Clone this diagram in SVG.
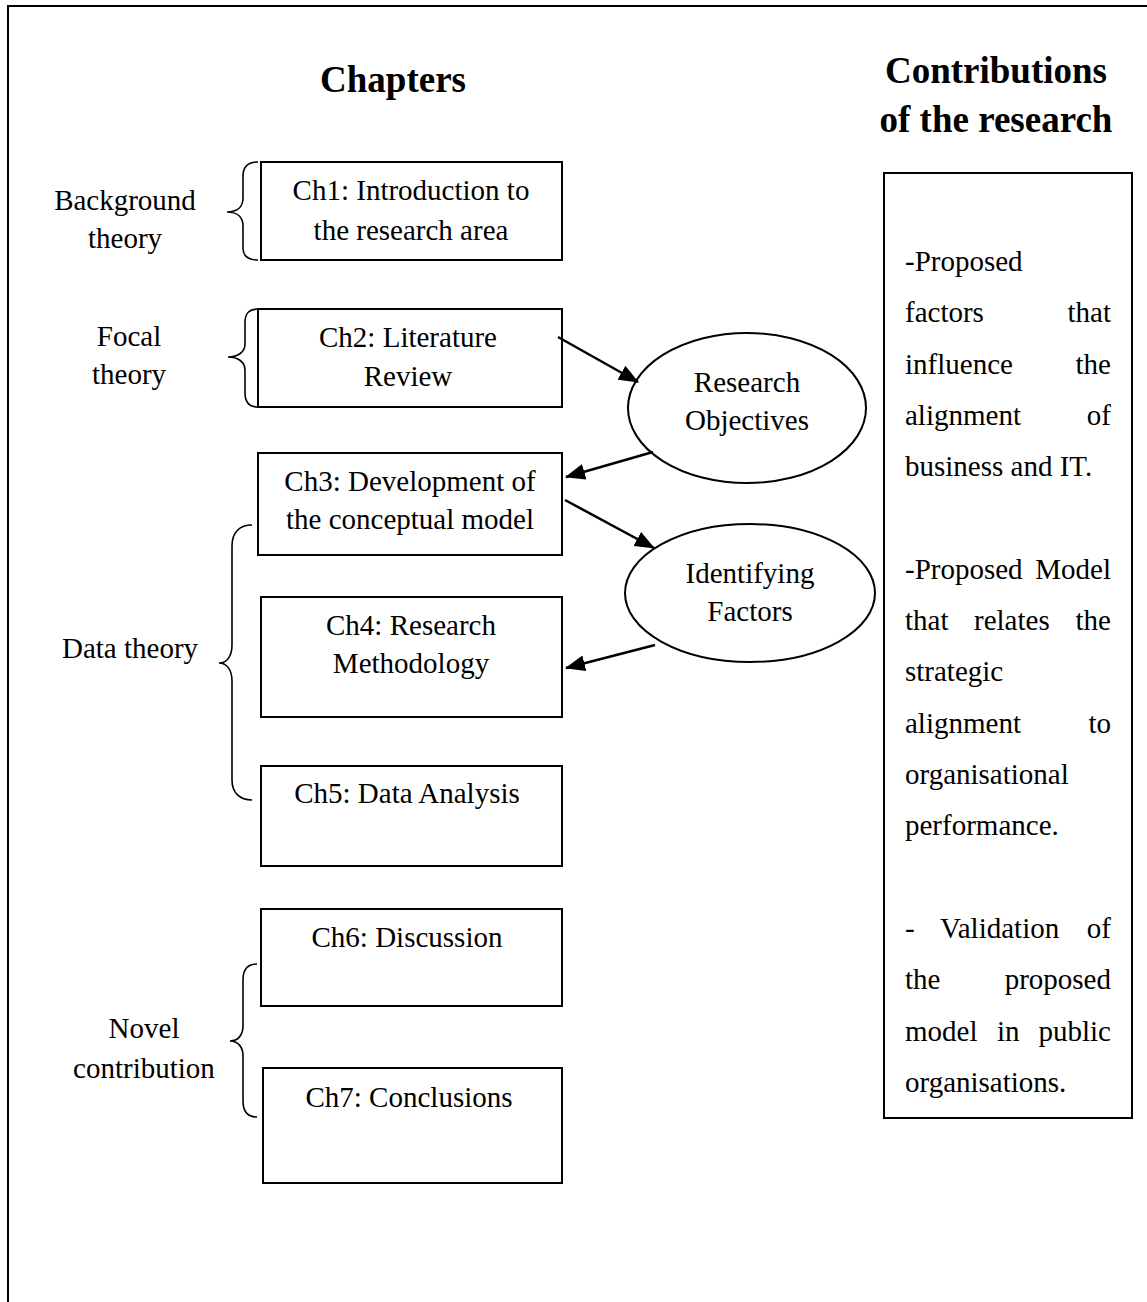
<svg xmlns="http://www.w3.org/2000/svg" width="1147" height="1302" viewBox="0 0 1147 1302">
  <style>
    .box { fill: #fff; stroke: #000; stroke-width: 2; }
    .brace { fill: none; stroke: #000; stroke-width: 1.6; }
    .edge { fill: none; stroke: #000; stroke-width: 2.5; }
    text { font-family: "Liberation Serif", "Times New Roman", serif; font-size: 29px; fill: #000; }
    .mid { text-anchor: middle; }
    .end { text-anchor: end; }
    .title { font-size: 37px; font-weight: bold; }
  </style>
  <defs>
    <marker id="arrow" markerUnits="userSpaceOnUse" markerWidth="20" markerHeight="16" refX="19" refY="8" orient="auto">
      <path d="M0,0 L20,8 L0,16 Z" fill="#000"/>
    </marker>
  </defs>

  <rect width="1147" height="1302" fill="#fff"/>

  <!-- page frame (top and left edges) -->
  <path d="M8,1302 L8,6 L1147,6" fill="none" stroke="#000" stroke-width="2"/>

  <!-- headings -->
  <text class="title mid" x="393" y="92">Chapters</text>
  <text class="title mid" x="996" y="83">Contributions</text>
  <text class="title mid" x="996" y="132">of the research</text>

  <!-- group labels with braces -->
  <g id="background-theory">
    <text class="mid" x="125" y="210">Background</text>
    <text class="mid" x="125" y="248">theory</text>
    <path class="brace" d="M258,162 C248,162 243,166 243,176 L243,198 C243,207 237,212 227,212 C237,212 243,217 243,226 L243,248 C243,256 248,260 258,260"/>
  </g>
  <g id="focal-theory">
    <text class="mid" x="129" y="346">Focal</text>
    <text class="mid" x="129" y="384">theory</text>
    <path class="brace" d="M258,309 C249,309 245,313 245,323 L245,344 C245,352 238,357 228,357 C238,357 245,362 245,370 L245,393 C245,402 249,407 258,407"/>
  </g>
  <g id="data-theory">
    <text class="mid" x="130" y="658">Data theory</text>
    <path class="brace" d="M252,525 C240,525 232,532 232,546 L232,645 C232,656 227,663 219,663 C227,663 232,670 232,681 L232,780 C232,793 240,800 252,800"/>
  </g>
  <g id="novel-contribution">
    <text class="mid" x="144" y="1038">Novel</text>
    <text class="mid" x="144" y="1078">contribution</text>
    <path class="brace" d="M257,964 C248,964 243,969 243,980 L243,1026 C243,1035 238,1041 230,1041 C238,1041 243,1047 243,1056 L243,1101 C243,1112 248,1117 257,1117"/>
  </g>

  <!-- chapter boxes -->
  <g id="ch1">
    <rect class="box" x="261" y="162" width="301" height="98"/>
    <text class="mid" x="411" y="200">Ch1: Introduction to</text>
    <text class="mid" x="411" y="240">the research area</text>
  </g>
  <g id="ch2">
    <rect class="box" x="258" y="309" width="304" height="98"/>
    <text class="mid" x="408" y="347">Ch2: Literature</text>
    <text class="mid" x="408" y="386">Review</text>
  </g>
  <g id="ch3">
    <rect class="box" x="258" y="453" width="304" height="102"/>
    <text class="mid" x="410" y="491">Ch3: Development of</text>
    <text class="mid" x="410" y="529">the conceptual model</text>
  </g>
  <g id="ch4">
    <rect class="box" x="261" y="597" width="301" height="120"/>
    <text class="mid" x="411" y="635">Ch4: Research</text>
    <text class="mid" x="411" y="673">Methodology</text>
  </g>
  <g id="ch5">
    <rect class="box" x="261" y="766" width="301" height="100"/>
    <text class="mid" x="407" y="803">Ch5: Data Analysis</text>
  </g>
  <g id="ch6">
    <rect class="box" x="261" y="909" width="301" height="97"/>
    <text class="mid" x="407" y="947">Ch6: Discussion</text>
  </g>
  <g id="ch7">
    <rect class="box" x="263" y="1068" width="299" height="115"/>
    <text class="mid" x="409" y="1107">Ch7: Conclusions</text>
  </g>

  <!-- ellipses -->
  <g id="research-objectives">
    <ellipse class="box" cx="747" cy="408" rx="119" ry="75"/>
    <text class="mid" x="747" y="392">Research</text>
    <text class="mid" x="747" y="430">Objectives</text>
  </g>
  <g id="identifying-factors">
    <ellipse class="box" cx="750" cy="593" rx="125" ry="69"/>
    <text class="mid" x="750" y="583">Identifying</text>
    <text class="mid" x="750" y="621">Factors</text>
  </g>

  <!-- connectors -->
  <g id="connectors">
    <line class="edge" x1="558" y1="337" x2="638" y2="382" marker-end="url(#arrow)"/>
    <line class="edge" x1="653" y1="452" x2="566" y2="477" marker-end="url(#arrow)"/>
    <line class="edge" x1="565" y1="500" x2="654" y2="548" marker-end="url(#arrow)"/>
    <line class="edge" x1="655" y1="645" x2="566" y2="668" marker-end="url(#arrow)"/>
  </g>

  <!-- contributions box, justified text -->
  <g id="contributions">
    <rect class="box" x="884" y="173" width="248" height="945"/>
    <text x="905" y="271">-Proposed</text>
    <text x="905" y="322">factors</text><text class="end" x="1111" y="322">that</text>
    <text x="905" y="374">influence</text><text class="end" x="1111" y="374">the</text>
    <text x="905" y="425">alignment</text><text class="end" x="1111" y="425">of</text>
    <text x="905" y="476">business and IT.</text>

    <text x="905" y="579">-Proposed</text><text class="end" x="1111" y="579">Model</text>
    <text x="905" y="630">that</text><text x="974" y="630">relates</text><text class="end" x="1111" y="630">the</text>
    <text x="905" y="681">strategic</text>
    <text x="905" y="733">alignment</text><text class="end" x="1111" y="733">to</text>
    <text x="905" y="784">organisational</text>
    <text x="905" y="835">performance.</text>

    <text x="905" y="938">-</text><text x="940" y="938">Validation</text><text class="end" x="1111" y="938">of</text>
    <text x="905" y="989">the</text><text class="end" x="1111" y="989">proposed</text>
    <text x="905" y="1041">model</text><text x="997" y="1041">in</text><text class="end" x="1111" y="1041">public</text>
    <text x="905" y="1092">organisations.</text>
  </g>
</svg>
